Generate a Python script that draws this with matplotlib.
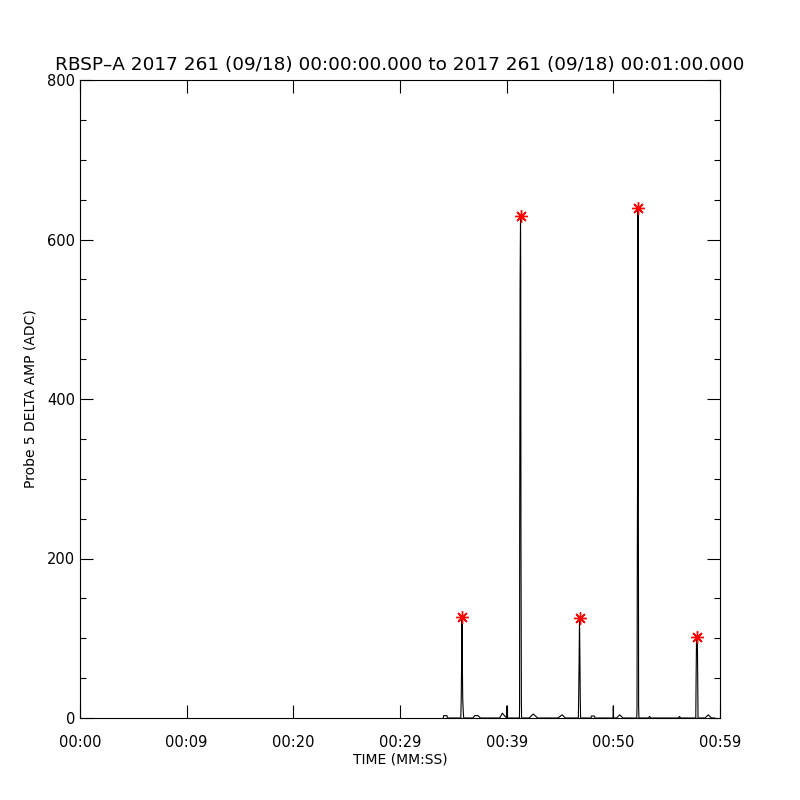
import matplotlib
matplotlib.use('Agg')
import matplotlib.pyplot as plt
from matplotlib.ticker import MultipleLocator

# Probe 5 delta amplitude, seconds after 00:00:00
time_s = [34.05, 34.10, 34.40, 34.45,
          35.70, 35.74, 35.78, 35.81, 35.84, 35.88, 35.93, 35.97,
          36.85, 37.00, 37.30, 37.55,
          39.35, 39.60, 39.85, 40.00, 40.02, 40.05,
          41.20, 41.21, 41.22, 41.26, 41.30, 41.32, 41.34, 41.38, 41.40,
          42.10, 42.50, 42.90,
          44.80, 45.20, 45.50,
          46.72, 46.75, 46.79, 46.83, 46.87, 46.90, 46.93,
          47.90, 47.95, 48.20, 48.30,
          49.98, 50.00, 50.02,
          50.30, 50.60, 50.90,
          52.20, 52.22, 52.25, 52.28, 52.31, 52.34, 52.37, 52.40,
          53.30, 53.40, 53.50,
          56.10, 56.20, 56.30,
          57.73, 57.76, 57.80, 57.84, 57.88, 57.91, 57.94,
          58.60, 58.90, 59.20, 59.50]
delta_amp = [0, 3, 3, 0,
             0, 24, 73, 127, 73, 24, 8, 0,
             0, 3, 3, 0,
             0, 6, 2, 0, 15, 0,
             0, 20, 230, 548, 630, 548, 230, 20, 0,
             0, 5, 0,
             0, 4, 0,
             0, 25, 70, 126, 70, 25, 0,
             0, 2.5, 2.5, 0,
             0, 15, 0,
             0, 4, 0,
             0, 15, 210, 340, 640, 340, 15, 0,
             0, 2, 0,
             0, 2, 0,
             0, 50, 100, 102, 100, 50, 0,
             0, 4, 0, 0]

# detected peaks
peak_t = [35.81, 41.30, 46.83, 52.31, 57.84]
peak_v = [127, 630, 126, 640, 102]

xtick_pos = [0, 10, 20, 30, 40, 50, 60]
xtick_labels = ['00:00', '00:09', '00:20', '00:29', '00:39', '00:50', '00:59']

fig = plt.figure(figsize=(8, 8), dpi=100)
ax = fig.add_axes([0.1, 0.1025, 0.8, 0.7975])

ax.plot(time_s, delta_amp, color='black', lw=0.8)
ax.plot(peak_t, peak_v, ls='none', marker=(8, 2, 0), color='red',
        ms=9, mew=1.0)

ax.set_xlim(0, 60)
ax.set_ylim(0, 800)
ax.set_xticks(xtick_pos)
ax.set_xticklabels(xtick_labels)
ax.yaxis.set_major_locator(MultipleLocator(200))
ax.yaxis.set_minor_locator(MultipleLocator(50))

ax.tick_params(axis='both', which='major', direction='in', length=9.2,
               width=0.8, top=True, right=True, labelsize=10.5)
ax.tick_params(axis='y', which='minor', direction='in', length=4.6,
               width=0.8, right=True)
ax.tick_params(axis='x', pad=12)
for s in ax.spines.values():
    s.set_linewidth(0.8)

ax.set_xlabel('TIME (MM:SS)', fontsize=10, labelpad=2)
ax.set_ylabel('Probe 5 DELTA AMP (ADC)', fontsize=10, labelpad=7)
ax.set_title('RBSP\u2013A 2017 261 (09/18) 00:00:00.000 to 2017 261 (09/18) 00:01:00.000',
             fontsize=13.3, pad=7)

fig.savefig('out.png', dpi=100)
